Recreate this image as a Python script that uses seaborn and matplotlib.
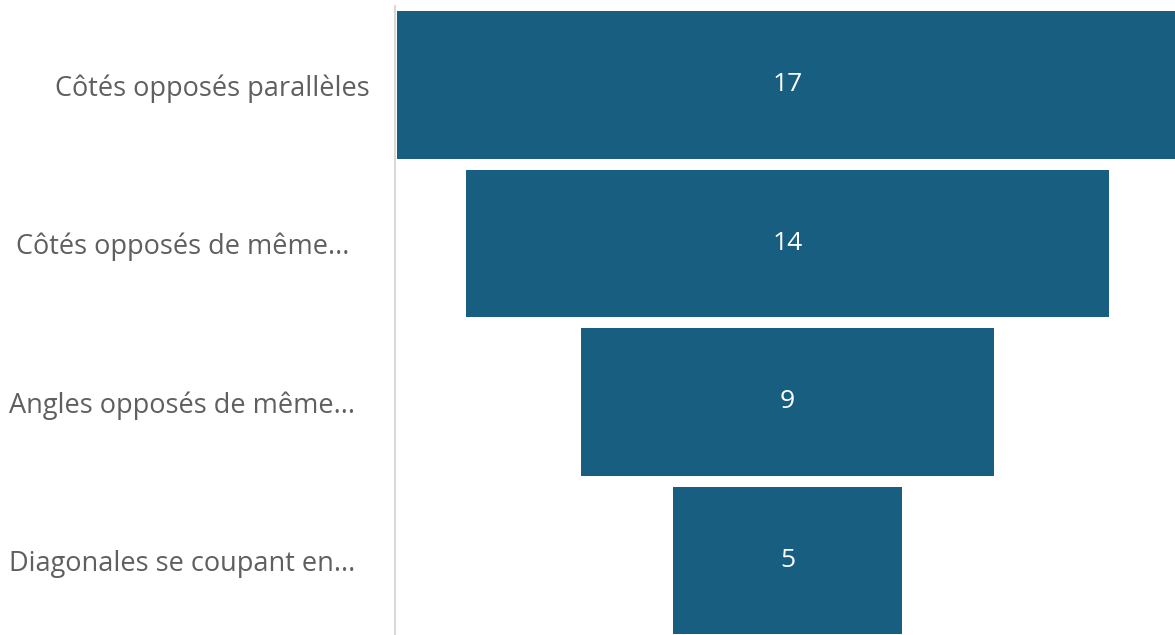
import matplotlib
matplotlib.use("Agg")
import matplotlib.pyplot as plt
import matplotlib.transforms as mtransforms
import seaborn as sns
import pandas as pd

categories = [
    "Côtés opposés parallèles",
    "Côtés opposés de même...",
    "Angles opposés de même...",
    "Diagonales se coupant en...",
]
values = [17, 14, 9, 5]
label_shift_px = [0, -21, -15, -15]

bar_color = "#175E80"
text_color = "#5f5f5f"

sns.set_theme(style="white")
plt.rcParams["font.family"] = ["Open Sans", "DejaVu Sans"]

df = pd.DataFrame({"stage": categories, "count": values})

fig = plt.figure(figsize=(11.75, 6.35), dpi=100)
ax = fig.add_axes([395 / 1175, 0, 1 - 395 / 1175, 629 / 635])

sns.barplot(data=df, x="count", y="stage", orient="h", color=bar_color,
            saturation=1, width=0.93, ax=ax)

# centre every bar to form a funnel
vmax = max(values)
for patch, v in zip(ax.patches, values):
    patch.set_x((vmax - v) / 2)
    patch.set_width(v)
    patch.set_edgecolor("none")
    ax.text(vmax / 2, patch.get_y() + patch.get_height() / 2, f"{v}",
            ha="center", va="center", color="white", fontsize=19)

ax.set_xlim(-0.05, 16.94)
ax.set_ylim(3.47, -0.498)
ax.set_xlabel("")
ax.set_ylabel("")
ax.set_xticks([])

for side in ["top", "right", "bottom"]:
    ax.spines[side].set_visible(False)
ax.spines["left"].set_color("#d9d9d9")
ax.spines["left"].set_linewidth(1.5)

ax.tick_params(axis="y", length=0, pad=18, labelsize=19.5, labelcolor=text_color)
for lbl, dx in zip(ax.get_yticklabels(), label_shift_px):
    lbl.set_transform(lbl.get_transform() +
                      mtransforms.ScaledTranslation(dx / 100, 0, fig.dpi_scale_trans))

fig.savefig("out.png", dpi=100, facecolor="white")
